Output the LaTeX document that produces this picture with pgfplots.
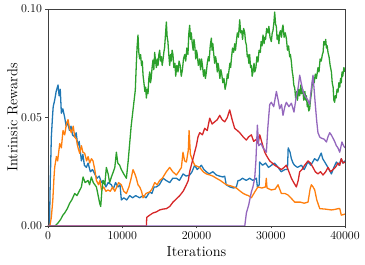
\documentclass[border=0pt]{standalone}
\usepackage{pgfplots}
\pgfplotsset{compat=1.18}
\definecolor{c0}{HTML}{1F77B4}
\definecolor{c1}{HTML}{FF7F0E}
\definecolor{c2}{HTML}{2CA02C}
\definecolor{c3}{HTML}{D62728}
\definecolor{c4}{HTML}{9467BD}
\begin{document}
\begin{tikzpicture}
\path[use as bounding box] (-48pt,-39pt) rectangle (317pt,226pt);
\begin{axis}[
  scale only axis, width=297pt, height=217pt,
  xmin=0, xmax=40000, ymin=0, ymax=0.1,
  xtick={0,10000,20000,30000,40000},
  ytick={0,0.05,0.1},
  scaled x ticks=false, scaled y ticks=false,
  xticklabel style={/pgf/number format/1000 sep={}},
  yticklabel style={/pgf/number format/.cd, fixed, fixed zerofill, precision=2},
  tick label style={font=\fontsize{12}{14}\selectfont},
  xlabel={Iterations}, ylabel={Intrinsic Rewards},
  every axis x label/.style={at={(axis description cs:0.5,0)}, yshift=-26pt, anchor=center, font=\fontsize{14.5}{17}\selectfont},
  every axis y label/.style={at={(axis description cs:0,0.5)}, xshift=-35.5pt, rotate=90, anchor=center, font=\fontsize{14.5}{17}\selectfont},
  tick pos=left, tick align=outside, major tick length=2.5pt,
  axis line style={black!75}, tick style={black!75},
  every axis plot/.append style={line width=1.3pt, line join=round},
]
\addplot[c0] coordinates {(0,0)(200,0)(300,0.02)(450,0.041)(600,0.05)(700,0.055)(900,0.058)(1100,0.062)(1350,0.065)(1500,0.060)(1650,0.063)(1800,0.052)(2000,0.054)(2250,0.050)(2450,0.046)(2600,0.048)(2900,0.044)(3100,0.046)(3300,0.042)(3600,0.041)(3800,0.043)(4000,0.037)(4200,0.039)(4500,0.030)(4700,0.033)(4900,0.028)(5170,0.027)(5400,0.029)(5700,0.025)(6000,0.026)(6300,0.024)(6600,0.022)(6900,0.023)(7200,0.020)(7500,0.021)(7800,0.018)(8100,0.020)(8540,0.019)(8800,0.017)(9100,0.020)(9430,0.018)(9700,0.019)(9880,0.012)(10200,0.013)(10600,0.012)(11000,0.014)(11400,0.013)(11800,0.014)(12350,0.013)(12800,0.014)(13200,0.013)(13700,0.0157)(14000,0.015)(14300,0.018)(14600,0.018)(15000,0.019)(15500,0.022)(15900,0.021)(16400,0.020)(16800,0.022)(17300,0.022)(17700,0.021)(18200,0.024)(18600,0.023)(19080,0.0235)(19400,0.025)(19750,0.028)(20100,0.026)(20660,0.028)(21000,0.026)(21330,0.025)(21700,0.024)(22200,0.025)(22680,0.0235)(23100,0.023)(23570,0.0226)(23800,0.023)(24000,0.019)(24500,0.018)(25000,0.0175)(25370,0.018)(25600,0.021)(25800,0.021)(26200,0.022)(26700,0.021)(27160,0.022)(27600,0.021)(28070,0.022)(28200,0.018)(28450,0.019)(28500,0.0295)(28900,0.028)(29300,0.029)(29700,0.027)(30100,0.028)(30500,0.029)(31000,0.027)(31400,0.025)(31900,0.026)(32250,0.026)(32350,0.036)(32600,0.034)(32780,0.031)(33000,0.029)(33200,0.028)(33600,0.027)(34130,0.028)(34500,0.026)(35000,0.0295)(35400,0.028)(35900,0.031)(36300,0.030)(36800,0.0336)(37000,0.031)(37270,0.0295)(37700,0.027)(38170,0.024)(38500,0.027)(38840,0.0295)(39200,0.028)(39500,0.031)(39700,0.029)(40000,0.030)};
\addplot[c1] coordinates {(0,0)(250,0)(450,0.004)(650,0.012)(800,0.022)(900,0.027)(1130,0.032)(1300,0.030)(1580,0.038)(1800,0.036)(2020,0.044)(2250,0.042)(2480,0.047)(2700,0.049)(2900,0.045)(3150,0.043)(3400,0.046)(3600,0.041)(3820,0.040)(4050,0.036)(4270,0.0335)(4500,0.037)(4700,0.034)(4940,0.0335)(5200,0.030)(5400,0.032)(5620,0.029)(5850,0.031)(6060,0.030)(6300,0.026)(6520,0.021)(6800,0.019)(7000,0.021)(7200,0.0166)(7500,0.018)(7800,0.016)(8080,0.0166)(8400,0.016)(8700,0.018)(9000,0.016)(9200,0.0175)(9500,0.020)(9880,0.019)(10200,0.016)(10560,0.015)(10900,0.018)(11200,0.022)(11450,0.026)(11700,0.024)(11900,0.022)(12120,0.019)(12350,0.018)(12600,0.016)(12800,0.013)(13200,0.015)(13700,0.0157)(14000,0.017)(14370,0.020)(14700,0.019)(15040,0.021)(15400,0.022)(15940,0.025)(16390,0.027)(16800,0.025)(17290,0.0235)(17600,0.025)(17970,0.027)(18180,0.034)(18400,0.030)(18640,0.0295)(18900,0.035)(19000,0.044)(19180,0.033)(19500,0.030)(19760,0.028)(20430,0.027)(20900,0.025)(21330,0.024)(21800,0.0235)(22200,0.023)(22680,0.022)(23200,0.021)(23600,0.020)(24030,0.019)(24600,0.0185)(25000,0.018)(25370,0.0175)(25900,0.016)(26300,0.015)(26720,0.0143)(27000,0.014)(27390,0.013)(27900,0.016)(28280,0.018)(28800,0.0175)(29300,0.018)(29400,0.022)(29500,0.0175)(30080,0.0166)(30600,0.017)(30980,0.019)(31200,0.017)(31430,0.015)(31900,0.015)(32320,0.0143)(32700,0.013)(33230,0.011)(34000,0.011)(34500,0.0105)(35020,0.011)(35300,0.017)(35470,0.019)(35700,0.018)(35920,0.0166)(36200,0.012)(36600,0.008)(37300,0.0078)(38170,0.0074)(38600,0.0076)(39060,0.008)(39300,0.008)(39500,0.005)(40000,0.0055)};
\addplot[c2] coordinates {(0,0)(900,0)(1100,0.0005)(1350,0.0014)(1700,0.003)(2000,0.005)(2250,0.006)(2600,0.008)(2920,0.0105)(3200,0.012)(3600,0.015)(3900,0.014)(4200,0.016)(4500,0.018)(4720,0.0226)(5000,0.020)(5390,0.021)(5600,0.019)(5840,0.0226)(6100,0.020)(6520,0.018)(6700,0.015)(6960,0.0105)(7100,0.009)(7250,0.016)(7400,0.021)(7650,0.019)(7860,0.027)(8100,0.024)(8300,0.020)(8540,0.0226)(8800,0.025)(9000,0.027)(9210,0.034)(9400,0.029)(9650,0.028)(9880,0.026)(10200,0.024)(10560,0.022)(10800,0.030)(11000,0.038)(11200,0.046)(11450,0.0535)(11760,0.0627)(11900,0.075)(12000,0.0826)
(12120,0.088)(12230,0.080)(12350,0.077)(12470,0.079)(12600,0.074)(12700,0.076)(12800,0.0695)(12920,0.066)(13050,0.062)(13150,0.064)(13250,0.059)(13360,0.063)(13470,0.061)(13580,0.068)(13700,0.071)(13800,0.066)(13900,0.068)(14020,0.073)(14140,0.0765)(14250,0.072)(14370,0.080)(14480,0.076)(14600,0.073)(14710,0.077)(14820,0.074)(14930,0.079)(15040,0.081)(15150,0.076)(15270,0.078)(15380,0.074)(15490,0.0765)(15600,0.080)(15700,0.082)(15820,0.088)(15940,0.094)(16050,0.087)(16150,0.085)(16270,0.079)(16390,0.074)(16500,0.079)(16600,0.076)(16720,0.081)(16830,0.079)(16950,0.073)(17100,0.075)(17200,0.069)(17350,0.074)(17510,0.071)(17650,0.076)(17800,0.074)(17950,0.069)(18100,0.072)(18250,0.077)(18410,0.079)(18550,0.076)(18700,0.082)(18850,0.079)(18950,0.088)(19080,0.0925)(19200,0.086)(19300,0.089)(19400,0.085)(19550,0.081)(19660,0.086)(19760,0.0834)(19900,0.077)(20000,0.081)(20100,0.079)(20250,0.074)(20430,0.077)(20550,0.072)(20680,0.077)(20800,0.074)(20950,0.069)(21100,0.072)(21200,0.068)(21330,0.071)(21450,0.075)(21600,0.078)(21700,0.076)(21850,0.083)(22000,0.0866)(22100,0.081)(22200,0.084)(22300,0.080)(22450,0.075)(22580,0.078)(22680,0.0756)(22800,0.071)(22900,0.075)(23000,0.073)(23150,0.068)(23280,0.072)(23400,0.070)(23550,0.066)(23700,0.068)(23850,0.063)(24030,0.066)(24150,0.070)(24250,0.068)(24350,0.071)(24500,0.075)(24600,0.073)(24700,0.077)(24850,0.082)(25000,0.080)(25150,0.084)(25250,0.081)(25400,0.086)(25500,0.089)(25650,0.087)(25820,0.095)(25950,0.089)(26100,0.090)(26200,0.086)(26350,0.091)(26500,0.089)(26600,0.085)(26720,0.0834)(26840,0.078)(26940,0.079)(27050,0.075)(27160,0.079)(27280,0.073)(27400,0.074)(27500,0.069)(27610,0.071)(27750,0.075)(27850,0.071)(28000,0.073)(28140,0.078)(28280,0.0756)(28430,0.081)(28600,0.080)(28700,0.085)(28830,0.083)(28960,0.088)(29100,0.084)(29200,0.087)(29300,0.086)(29450,0.091)(29630,0.089)(29750,0.092)(29900,0.087)(30080,0.085)(30200,0.089)(30300,0.090)(30430,0.094)(30530,0.0986)(30650,0.093)(30750,0.092)(30860,0.086)(30980,0.088)(31100,0.084)(31200,0.089)(31300,0.090)(31450,0.087)(31550,0.091)(31650,0.0926)(31800,0.087)(31950,0.089)(32100,0.0866)(32250,0.081)(32400,0.083)(32550,0.078)(32650,0.079)(32780,0.0756)(32900,0.071)(33000,0.069)(33100,0.065)(33230,0.0636)(33350,0.059)(33500,0.062)(33600,0.058)(33750,0.063)(33900,0.060)(34050,0.065)(34150,0.061)(34300,0.063)(34450,0.058)(34600,0.062)(34700,0.058)(34800,0.060)(34920,0.055)(35000,0.057)(35120,0.053)(35240,0.054)(35350,0.058)(35500,0.062)(35600,0.066)(35690,0.068)(35850,0.066)(36000,0.070)(36150,0.068)(36370,0.073)(36500,0.071)(36650,0.077)(36800,0.076)(36950,0.079)(37050,0.080)(37150,0.085)(37270,0.0834)(37400,0.086)(37500,0.082)(37600,0.083)(37710,0.080)(37850,0.078)(38000,0.074)(38170,0.071)(38280,0.066)(38400,0.064)(38500,0.058)(38610,0.057)(38700,0.060)(38800,0.059)(38930,0.063)(39060,0.0617)(39180,0.066)(39300,0.064)(39400,0.068)(39500,0.066)(39600,0.071)(39700,0.069)(39850,0.073)(40000,0.071)};
\addplot[c3] coordinates {(0,0)(13250,0)(13300,0.004)(13700,0.005)(14140,0.006)(14600,0.0065)(15040,0.0074)(15500,0.0078)(15940,0.008)(16400,0.009)(16830,0.011)(17300,0.0125)(17740,0.014)(18200,0.016)(18640,0.019)(18900,0.021)(19080,0.025)(19300,0.028)(19530,0.031)(19750,0.034)(19980,0.037)(20200,0.041)(20430,0.043)(20800,0.042)(21100,0.045)(21450,0.044)(21780,0.0497)(22100,0.047)(22450,0.048)(22800,0.049)(23130,0.051)(23450,0.049)(23800,0.048)(24150,0.050)(24470,0.0535)(24800,0.049)(25140,0.045)(25500,0.044)(25820,0.043)(26300,0.041)(26720,0.0396)(27000,0.041)(27390,0.042)(27700,0.039)(28070,0.040)(28300,0.038)(28520,0.042)(28850,0.038)(29190,0.034)(29500,0.032)(29860,0.030)(30200,0.029)(30530,0.028)(31000,0.027)(31430,0.026)(31800,0.027)(32100,0.028)(32450,0.025)(32780,0.022)(33100,0.020)(33450,0.018)(33700,0.021)(33900,0.025)(34200,0.026)(34570,0.028)(35020,0.030)(35350,0.029)(35690,0.027)(36000,0.025)(36360,0.024)(36700,0.025)(37040,0.0235)(37400,0.025)(37710,0.027)(38050,0.025)(38380,0.026)(38700,0.027)(39060,0.029)(39300,0.028)(39500,0.031)(39750,0.029)(40000,0.0295)};
\addplot[c4] coordinates {(0,0)(26500,0)(26720,0.006)(27030,0.0097)(27390,0.0157)(27600,0.018)(27840,0.022)(28000,0.030)(28200,0.0465)(28380,0.037)(28700,0.038)(28960,0.036)(29200,0.035)(29410,0.034)(29600,0.045)(29860,0.056)(30080,0.057)(30400,0.055)(30760,0.062)(31000,0.058)(31200,0.054)(31450,0.056)(31650,0.051)(31900,0.055)(32100,0.057)(32450,0.055)(32780,0.0566)(33130,0.0525)(33450,0.060)(33700,0.064)(33900,0.0695)(34100,0.066)(34350,0.062)(34600,0.060)(34800,0.059)(35000,0.058)(35240,0.056)(35450,0.063)(35690,0.0695)(36000,0.056)(36200,0.048)(36360,0.043)(36600,0.041)(36810,0.0405)(37200,0.040)(37500,0.0387)(37700,0.041)(37940,0.043)(38150,0.042)(38380,0.0405)(38600,0.039)(38840,0.037)(39050,0.036)(39290,0.034)(39590,0.0387)(39800,0.037)(40000,0.036)};
\end{axis}
\end{tikzpicture}
\end{document}
